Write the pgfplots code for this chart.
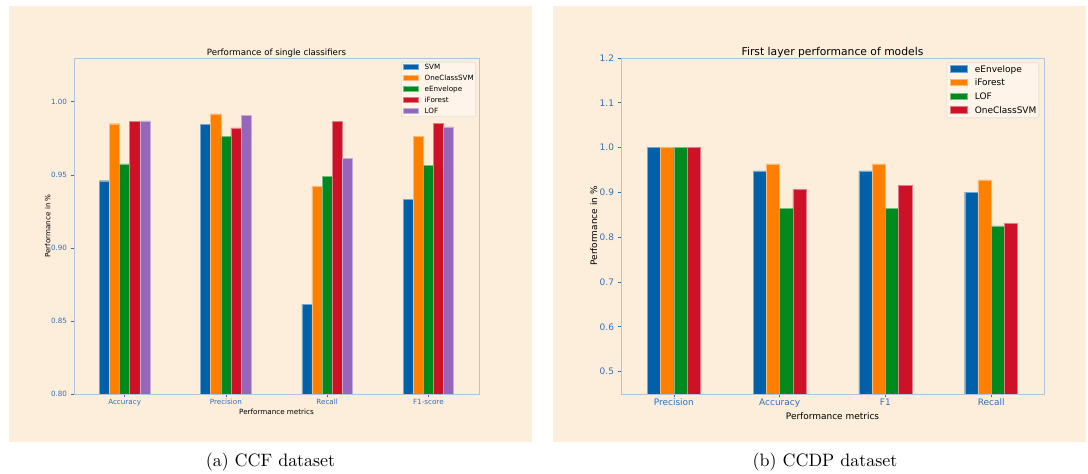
\documentclass[border=0pt]{standalone}
\usepackage{pgfplots}
\pgfplotsset{compat=1.18}
\usepackage{fontspec}
\newfontfamily\dv{DejaVu Sans}
\definecolor{bg}{RGB}{253,237,219}
\definecolor{cblue}{RGB}{0,96,170}
\definecolor{corange}{RGB}{255,127,0}
\definecolor{cgreen}{RGB}{0,137,30}
\definecolor{cred}{RGB}{205,17,38}
\definecolor{cpurple}{RGB}{148,103,186}
\definecolor{spine}{RGB}{176,196,222}
\definecolor{tickc}{RGB}{50,112,185}

\pgfplotsset{
  common/.style={
    scale only axis, anchor=south west,
    height=336bp, xmin=-0.5, xmax=3.5,
    axis line style={spine, line width=0.9bp},
    tick style={tickc, line width=0.7bp},
    major tick length=3.5bp,
    tick align=outside,
    xtick pos=left, ytick pos=left,
    xtick={0,1,2,3},
    xticklabel style={yshift=2bp},
    /pgf/number format/assume math mode=true,
    tick label style={text=tickc},
    ybar,
    legend cell align=left,
    legend style={at={(1,1)}, anchor=north east, draw=black!18, fill=bg!60!white, rounded corners=1.5bp},
  },
  legA/.style={legend image code/.code={\fill[##1, sharp corners] (0bp,-1.6bp) rectangle (15bp,3.4bp);}},
  legB/.style={legend image code/.code={\fill[##1, sharp corners] (0bp,-1.8bp) rectangle (17.7bp,4.4bp);}},
}

\begin{document}
\begin{tikzpicture}[x=1bp,y=1bp]
\path[use as bounding box] (0,0) rectangle (1088,474);
\fill[bg] (9,32) rectangle (532,468);
\fill[bg] (553,32) rectangle (1086,468);

% ---------- (a) CCF dataset ----------
\begin{axis}[common, legA,
  at={(74bp,80bp)}, width=405bp,
  ymin=0.8, ymax=1.03,
  ytick={0.80,0.85,0.90,0.95,1.00},
  yticklabel style={/pgf/number format/fixed, /pgf/number format/precision=2, /pgf/number format/fixed zerofill},
  xticklabels={Accuracy,Precision,Recall,F1-score},
  tick label style={font=\dv\fontsize{7.2}{8.6}\selectfont},
  bar width=0.1,
  title={Performance of single classifiers},
  title style={font=\dv\fontsize{8.64}{10}\selectfont, inner sep=0pt, anchor=base, at={(axis description cs:0.5,1)}, yshift=-3.9bp},
  xlabel={Performance metrics},
  xlabel style={font=\dv\fontsize{7.2}{8.6}\selectfont, inner sep=0pt, anchor=base, at={(axis description cs:0.5,0)}, yshift=-20.5bp},
  ylabel={Performance in \%},
  ylabel style={font=\dv\fontsize{7.2}{8.6}\selectfont, inner sep=0pt, anchor=center, at={(axis description cs:-0.0647,0.5)}},
  legend style={xshift=-3bp, yshift=-4bp, font=\dv\fontsize{7.2}{8.6}\selectfont,
    inner xsep=2bp, inner ysep=2bp, row sep=3.9bp, column sep=6bp,
    nodes={inner sep=0pt, text height=5.3bp, text depth=1.5bp}},
]
\addplot[fill=cblue, draw=cblue!55!white, line width=0.4bp, bar shift=-0.2] coordinates {(0,0.946) (1,0.9845) (2,0.8613) (3,0.9333)};
\addplot[fill=corange, draw=corange!55!white, line width=0.4bp, bar shift=-0.1] coordinates {(0,0.985) (1,0.9918) (2,0.9422) (3,0.9762)};
\addplot[fill=cgreen, draw=cgreen!55!white, line width=0.4bp, bar shift=0] coordinates {(0,0.9575) (1,0.9762) (2,0.9488) (3,0.9563)};
\addplot[fill=cred, draw=cred!55!white, line width=0.4bp, bar shift=0.1] coordinates {(0,0.9865) (1,0.9822) (2,0.9865) (3,0.9854)};
\addplot[fill=cpurple, draw=cpurple!55!white, line width=0.4bp, bar shift=0.2] coordinates {(0,0.987) (1,0.9909) (2,0.9614) (3,0.9829)};
\legend{SVM,OneClassSVM,eEnvelope,iForest,LOF}
\end{axis}

% ---------- (b) CCDP dataset ----------
\begin{axis}[common, legB,
  at={(621bp,80bp)}, width=423bp,
  ymin=0.45, ymax=1.2,
  ytick={0.5,0.6,0.7,0.8,0.9,1.0,1.1,1.2},
  yticklabel style={/pgf/number format/fixed, /pgf/number format/precision=1, /pgf/number format/fixed zerofill},
  xticklabels={Precision,Accuracy,F1,Recall},
  tick label style={font=\dv\fontsize{9}{10.8}\selectfont},
  bar width=0.125,
  title={First layer performance of models},
  title style={font=\dv\fontsize{10.8}{13}\selectfont, inner sep=0pt, anchor=base, at={(axis description cs:0.5,1)}, yshift=-3.4bp},
  xlabel={Performance metrics},
  xlabel style={font=\dv\fontsize{9}{10.8}\selectfont, inner sep=0pt, anchor=base, at={(axis description cs:0.5,0)}, yshift=-25.5bp},
  ylabel={Performance in \%},
  ylabel style={font=\dv\fontsize{9}{10.8}\selectfont, inner sep=0pt, anchor=center, at={(axis description cs:-0.0643,0.5)}},
  legend style={xshift=-5bp, yshift=-4.7bp, font=\dv\fontsize{9}{10.8}\selectfont,
    inner xsep=2.5bp, inner ysep=2.5bp, row sep=4.8bp, column sep=7.3bp,
    nodes={inner sep=0pt, text height=6.6bp, text depth=2bp}},
]
\addplot[fill=cblue, draw=cblue!55!white, line width=0.4bp, bar shift=-0.1875] coordinates {(0,1.0) (1,0.9478) (2,0.9478) (3,0.9007)};
\addplot[fill=corange, draw=corange!55!white, line width=0.4bp, bar shift=-0.0625] coordinates {(0,1.0) (1,0.9634) (2,0.9634) (3,0.928)};
\addplot[fill=cgreen, draw=cgreen!55!white, line width=0.4bp, bar shift=0.0625] coordinates {(0,1.0) (1,0.865) (2,0.865) (3,0.8254)};
\addplot[fill=cred, draw=cred!55!white, line width=0.4bp, bar shift=0.1875] coordinates {(0,1.0) (1,0.9075) (2,0.9164) (3,0.8306)};
\legend{eEnvelope,iForest,LOF,OneClassSVM}
\end{axis}

\node[font=\fontsize{10}{12}\selectfont, scale=1.8, anchor=base] at (270.5,7) {(a) CCF dataset};
\node[font=\fontsize{10}{12}\selectfont, scale=1.8, anchor=base] at (825,7) {(b) CCDP dataset};
\end{tikzpicture}
\end{document}
